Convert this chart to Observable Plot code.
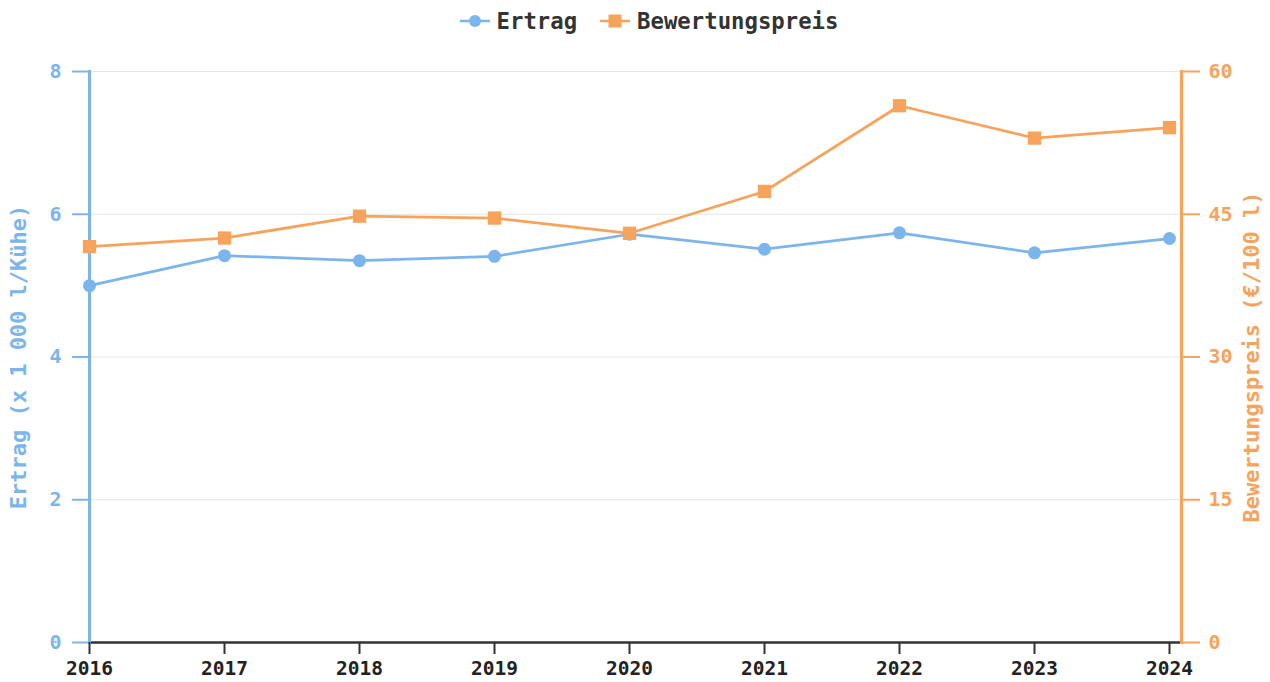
<!DOCTYPE html>
<html>
<head>
<meta charset="utf-8">
<script src="https://cdn.jsdelivr.net/npm/d3@7"></script>
<script src="https://cdn.jsdelivr.net/npm/@observablehq/plot@0.6"></script>
<style>
  html, body { margin: 0; padding: 0; background: #fff; }
  body { width: 1270px; height: 682px; overflow: hidden; font-family: "DejaVu Sans Mono", monospace; }
  #legend { height: 45px; display: flex; justify-content: center; align-items: center; gap: 23px; font-weight: bold; font-size: 22.3px; color: #333; padding: 0 0 3px 28px; box-sizing: border-box; }
  .item { display: flex; align-items: center; gap: 7px; }
  .item svg { display: block; }
  #chart svg { display: block; }
</style>
</head>
<body>
<div id="legend"></div>
<div id="chart"></div>
<script>
const years = [2016, 2017, 2018, 2019, 2020, 2021, 2022, 2023, 2024];
const ertrag = [5.00, 5.42, 5.35, 5.41, 5.72, 5.51, 5.74, 5.46, 5.66];
const preis = [41.6, 42.5, 44.8, 44.6, 43.0, 47.4, 56.4, 53.0, 54.1];
const leftTicks = [0, 2, 4, 6, 8];
const rightTicks = [0, 15, 30, 45, 60];
const seriesNames = ["Ertrag", "Bewertungspreis"];
const leftTitle = "Ertrag (x 1 000 l/Kühe)";
const rightTitle = "Bewertungspreis (€/100 l)";

const blue = "#7cb5ec";
const orange = "#f7a35c";
const font = "DejaVu Sans Mono";

const k = 8 / 60; // right axis -> left axis
const dataE = years.map((y, i) => ({year: y, v: ertrag[i]}));
const dataP = years.map((y, i) => ({year: y, v: preis[i] * k}));

// legend
const legend = document.getElementById("legend");
legend.innerHTML = `
  <div class="item"><svg width="30" height="16"><line x1="0" y1="8" x2="30" y2="8" stroke="${blue}" stroke-width="2.5"/><circle cx="15" cy="8" r="6" fill="${blue}"/></svg><span>${seriesNames[0]}</span></div>
  <div class="item"><svg width="30" height="16"><line x1="0" y1="8" x2="30" y2="8" stroke="${orange}" stroke-width="2.5"/><rect x="8.5" y="1.5" width="13" height="13" fill="${orange}"/></svg><span>${seriesNames[1]}</span></div>`;

const chart = Plot.plot({
  width: 1270,
  height: 637,
  marginTop: 26,
  marginBottom: 40,
  marginLeft: 89,
  marginRight: 89,
  style: {fontFamily: font, fontWeight: "bold", background: "#fff"},
  x: {domain: [2016, 2024], range: [89, 1169]},
  y: {domain: [0, 8]},
  marks: [
    Plot.ruleY(leftTicks.slice(1), {stroke: "#e6e6e6", strokeWidth: 1}),
    Plot.ruleY([0], {stroke: "#333", strokeWidth: 2.5}),
    Plot.frame({anchor: "left", stroke: blue, strokeWidth: 3}),
    Plot.frame({anchor: "right", stroke: orange, strokeWidth: 3}),
    Plot.axisY({ticks: leftTicks, anchor: "left", tickSize: 17, tickPadding: 11, stroke: blue, strokeWidth: 2, fill: blue, fontSize: 20, label: null}),
    Plot.axisY({ticks: rightTicks.map(v => v * k), tickFormat: d => String(Math.round(d / k)), anchor: "right", tickSize: 18, tickPadding: 9, stroke: orange, strokeWidth: 2, fill: orange, fontSize: 20, label: null}),
    Plot.axisX({ticks: years, tickFormat: d => String(d), tickSize: 12, tickPadding: 7, stroke: "#333", strokeWidth: 2, fill: "#222", fontSize: 19.5, label: null}),
    Plot.text([leftTitle], {text: d => d, frameAnchor: "left", textAnchor: "middle", dx: -71, rotate: -90, fill: blue, fontSize: 22, fontWeight: "bold"}),
    Plot.text([rightTitle], {text: d => d, frameAnchor: "right", textAnchor: "middle", dx: 70, rotate: -90, fill: orange, fontSize: 22, fontWeight: "bold"}),
    Plot.line(dataE, {x: "year", y: "v", stroke: blue, strokeWidth: 2.75}),
    Plot.line(dataP, {x: "year", y: "v", stroke: orange, strokeWidth: 2.75}),
    Plot.dot(dataE, {x: "year", y: "v", r: 6.5, fill: blue, symbol: "circle"}),
    Plot.dot(dataP, {x: "year", y: "v", r: 7.5, fill: orange, symbol: "square"})
  ]
});
document.getElementById("chart").appendChild(chart);
</script>
</body>
</html>
